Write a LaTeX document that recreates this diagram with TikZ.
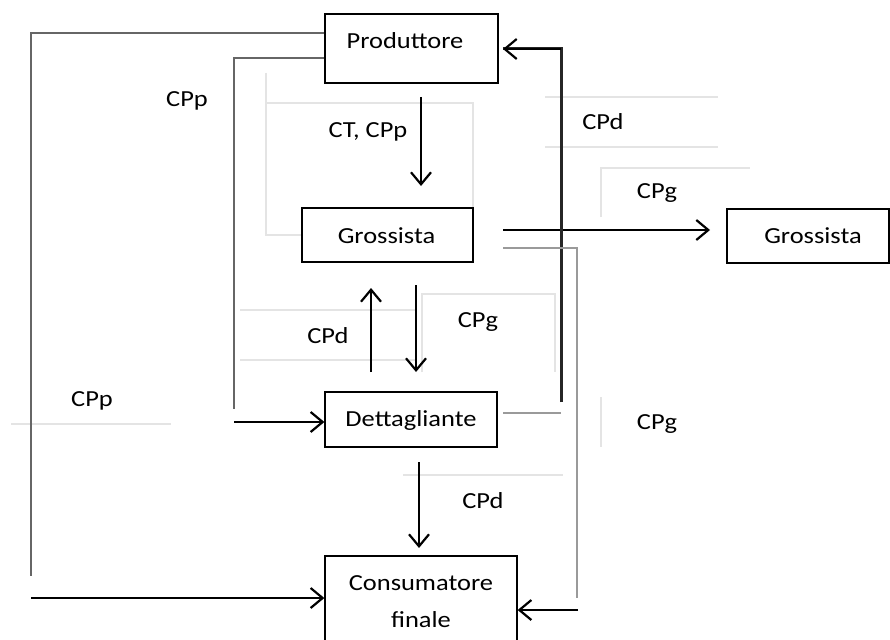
\documentclass[tikz,border=0pt]{standalone}
\usepackage{fontspec}
\setmainfont[FakeStretch=1.15]{Carlito}
\usetikzlibrary{arrows.meta}
\definecolor{faint}{HTML}{E4E4E4}
\definecolor{midgrey}{HTML}{666666}
\definecolor{lightgrey}{HTML}{9A9A9A}
\tikzset{
  box/.style={draw=black, line width=1.3pt, fill=none, inner sep=0pt},
  lbl/.style={font=\fontsize{23}{25}\selectfont, text=black, inner sep=0pt},
  faintline/.style={draw=faint, line width=1.5pt},
  greyline/.style={draw=midgrey, line width=2pt},
  lgreyline/.style={draw=lightgrey, line width=2.6pt},
  thickline/.style={draw=black!85, line width=3pt},
  arr/.style={draw=black, line width=2.4pt, -{Straight Barb[length=12pt,width=20pt,line width=2.2pt]}},
}
\begin{document}
\begin{tikzpicture}[x=1pt,y=-1pt]
\useasboundingbox (0,0) rectangle (890,639);
\clip (0,0) rectangle (890,639);
\fill[white] (0,0) rectangle (890,639);

% faint text-box borders
\draw[faintline] (266,73) -- (266,235) -- (302,235);
\draw[faintline] (266,103) -- (473,103) -- (473,208);
\draw[faintline] (545,97) -- (718,97);
\draw[faintline] (545,147) -- (718,147);
\draw[faintline] (601,217) -- (601,168) -- (750,168);
\draw[faintline] (240,310) -- (415,310);
\draw[faintline] (240,360) -- (415,360);
\draw[faintline] (422,372) -- (422,294) -- (555,294) -- (555,372);
\draw[faintline] (11,424) -- (171,424);
\draw[faintline] (601,397) -- (601,447);
\draw[faintline] (403,475) -- (563,475);

% boxes
\node[box, minimum width=173pt, minimum height=69pt] (prod) at (411.5,48.5) {};
\node[lbl] (prodT) at (405,41) {Produttore};
\node[box, minimum width=171pt, minimum height=54pt] (gro) at (387.5,235) {};
\node[lbl] (groT) at (386.5,236) {Grossista};
\node[box, minimum width=162pt, minimum height=54pt] (groR) at (808,236) {};
\node[lbl] (groRT) at (813,236) {Grossista};
\node[box, minimum width=172pt, minimum height=55pt] (det) at (411,419.5) {};
\node[lbl] (detT) at (411,420) {Dettagliante};
\node[box, minimum width=192pt, minimum height=90pt] (cons) at (421,601) {};
\node[lbl] (consT) at (421,583) {Consumatore};
\node[lbl] (consT2) at (421,620) {finale};

% free-end coordinates
\coordinate (c1) at (31,576);
\coordinate (c2) at (234,409);
\coordinate (c3) at (234,422);
\coordinate (c4) at (31,598);
\coordinate (ctA) at (421,97);
\coordinate (ctB) at (421,186);
\coordinate (gA) at (503,230);
\coordinate (gB) at (710,230);
\coordinate (rA) at (561,402);
\coordinate (rB) at (561,49);
\coordinate (rC) at (503,49);
\coordinate (sA) at (503,248);
\coordinate (sB) at (577,598);
\coordinate (sC) at (578,610);
\coordinate (tA) at (503,413);
\coordinate (tB) at (561,413);
\coordinate (uA) at (371,372);
\coordinate (uB) at (371,288);
\coordinate (vA) at (416,285);
\coordinate (vB) at (416,372);
\coordinate (wA) at (419,462);
\coordinate (wB) at (419,548);

% connectors
\draw[greyline] ([yshift=15.5pt]prod.west) -| (c1);
\draw[greyline] ([yshift=-9.5pt]prod.west) -| (c2);
\draw[arr] (c3) -- (c3 -| det.west);
\draw[arr] (c4) -- (c4 -| cons.west);
\draw[arr] (ctA) -- (ctB);
\draw[arr] (gA) -- (gB);
\draw[thickline] (rA) -- (rB) -- (rC);
\draw[arr] (rB) -- (rC);
\draw[lgreyline] (sA) -| (sB);
\draw[arr, line width=1.8pt] (sC) -- (sC -| cons.east);
\draw[lgreyline] (tA) -- (tB);
\draw[arr] (uA) -- (uB);
\draw[arr] (vA) -- (vB);
\draw[arr] (wA) -- (wB);

% labels
\node[lbl] (l1) at (187,101) {CPp};
\node[lbl] (l2) at (368,132) {CT, CPp};
\node[lbl] (l3) at (603,122) {CPd};
\node[lbl] (l4) at (657,193) {CPg};
\node[lbl] (l5) at (92,401) {CPp};
\node[lbl] (l6) at (328,336) {CPd};
\node[lbl] (l7) at (478,322) {CPg};
\node[lbl] (l8) at (657,424) {CPg};
\node[lbl] (l9) at (483,501) {CPd};
\end{tikzpicture}
\end{document}
